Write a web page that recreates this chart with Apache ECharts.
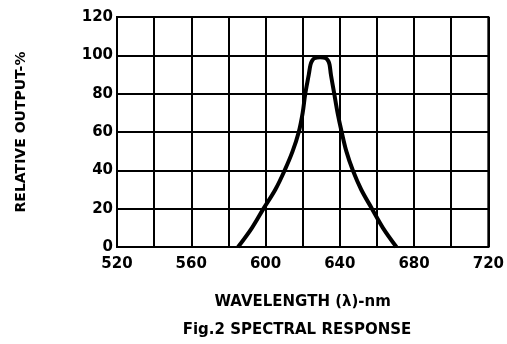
<!DOCTYPE html>
<html><head><meta charset="utf-8">
<script src="https://cdn.jsdelivr.net/npm/echarts@6/dist/echarts.min.js"></script>
<style>html,body{margin:0;padding:0;background:#fff}#c{width:507px;height:344px}</style>
</head><body><div id="c"></div>
<script>
// Data
const wavelength = [585.2, 592.7, 598.9, 605.3, 610.3, 614.6, 617.9, 620, 621.4, 623.3, 624.2, 625, 626.3, 629.4, 632.5, 633.8, 634.5, 635.2, 637, 638.8, 641, 643.5, 647, 651.5, 657.3, 663.2, 670.5];
const relOutput  = [0, 10, 20, 30, 40, 50, 60, 70, 80, 90, 95, 97, 98.5, 99, 98.5, 97, 95, 90, 80, 70, 60, 50, 40, 30, 20, 10, 0];
const xTicks = [520, 560, 600, 640, 680, 720];
const yTicks = [0, 20, 40, 60, 80, 100, 120];

const font = 'DejaVu Sans';
const chart = echarts.init(document.getElementById('c'), null, {renderer: 'canvas'});
chart.setOption({
  animation: false,
  backgroundColor: '#fff',
  grid: {left: 117, right: 17, top: 17, bottom: 97, show: true, borderColor: '#000', borderWidth: 2},
  xAxis: {
    type: 'value', min: 520, max: 720, interval: 20,
    name: 'WAVELENGTH (λ)-nm', nameLocation: 'middle', nameGap: 48,
    nameTextStyle: {fontFamily: font, fontWeight: 'bold', fontSize: 15, color: '#000'},
    axisLine: {show: true, lineStyle: {color: '#000', width: 2}},
    axisTick: {show: false},
    axisLabel: {fontFamily: font, fontWeight: 'bold', fontSize: 15, color: '#000', margin: 10,
      formatter: v => xTicks.includes(v) ? String(v) : ''},
    splitLine: {show: true, lineStyle: {color: '#000', width: 2}}
  },
  yAxis: {
    type: 'value', min: 0, max: 120, interval: 20,
    name: 'RELATIVE OUTPUT-%', nameLocation: 'middle', nameGap: 89, nameRotate: 90,
    nameTextStyle: {fontFamily: font, fontWeight: 'bold', fontSize: 14, color: '#000'},
    axisLine: {show: true, lineStyle: {color: '#000', width: 2}},
    axisTick: {show: false},
    axisLabel: {fontFamily: font, fontWeight: 'bold', fontSize: 15, color: '#000', margin: 4,
      formatter: v => yTicks.includes(v) ? String(v) : ''},
    splitLine: {show: true, lineStyle: {color: '#000', width: 2}}
  },
  title: {
    text: 'Fig.2 SPECTRAL RESPONSE', left: 292, top: 318, textAlign: 'center',
    textStyle: {fontFamily: font, fontWeight: 'bold', fontSize: 15, color: '#000'}
  },
  series: [{
    type: 'line',
    data: wavelength.map((w, i) => [w, relOutput[i]]),
    smooth: 0.35,
    symbol: 'none',
    lineStyle: {color: '#000', width: 4},
    clip: false
  }]
});
</script></body></html>
